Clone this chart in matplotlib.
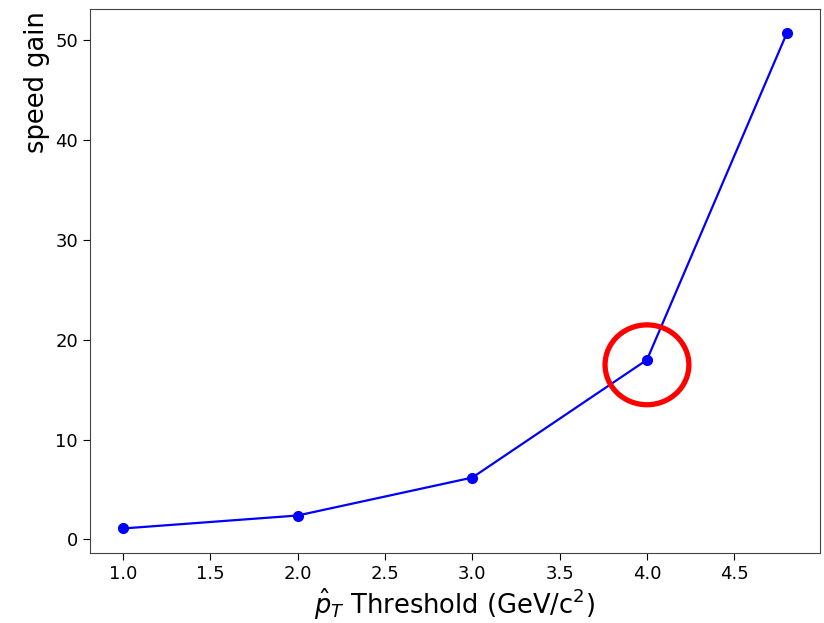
import matplotlib
matplotlib.use('Agg')
import matplotlib.pyplot as plt
from matplotlib.patches import Ellipse

# pT-hat threshold vs speed gain
thresholds = [1.0, 2.0, 3.0, 4.0, 4.8]
speed_gain = [1.1, 2.4, 6.2, 18.0, 50.7]

# highlighted point
mark_x = 4.0
mark_y = 17.5

fig = plt.figure(figsize=(8.24, 6.23), dpi=100)
ax = fig.add_axes([0.109, 0.112, 0.886, 0.874])

ax.plot(thresholds, speed_gain, color='b', linewidth=1.6, marker='o', markersize=7)

ax.add_patch(Ellipse((mark_x, mark_y), width=0.48, height=8.0,
                     fill=False, edgecolor='red', linewidth=3.8, zorder=5))

ax.set_xlabel(r'$\hat{p}_T$ Threshold (GeV/c$^2$)', fontsize=18.5, labelpad=3)
ax.set_ylabel('speed gain', fontsize=18.5, loc='top', labelpad=4)
ax.yaxis.label.set_y(0.995)
ax.tick_params(labelsize=13, length=5)
for s in ax.spines.values():
    s.set_color('#444444')

fig.savefig('out.png', dpi=100)
